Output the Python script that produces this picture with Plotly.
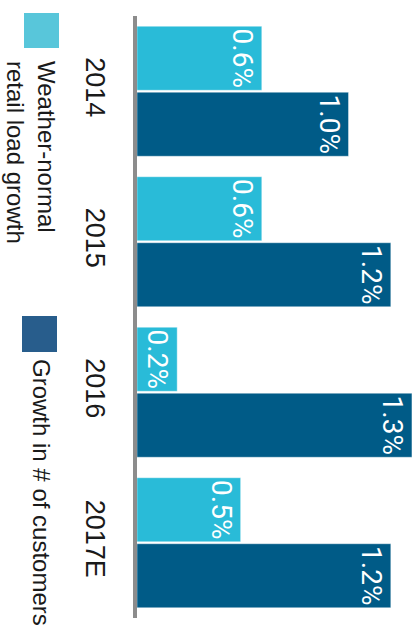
import plotly.graph_objects as go

categories = ["2014", "2015", "2016", "2017E"]
load_growth = [0.59, 0.59, 0.19, 0.49]
load_labels = ["0.6%", "0.6%", "0.2%", "0.5%"]
customer_growth = [1.0, 1.2, 1.3, 1.2]
customer_labels = ["1.0%", "1.2%", "1.3%", "1.2%"]
series_names = ["Weather-normal<br>retail load growth", "Growth in # of customers"]

W, H = 420, 625
ML, MR, MT, MB = 137, 0, 16, 7
PW, PH = W - ML - MR, H - MT - MB

def px_x(x):
    return (x - ML) / PW

def px_y(y):
    return (H - MB - y) / PH

LIGHT = "rgb(41,187,216)"
DARK = "rgb(0,91,135)"

fig = go.Figure()
fig.add_trace(go.Bar(
    y=categories, x=load_growth, orientation="h", name=series_names[0],
    marker=dict(color=LIGHT, line=dict(color="rgba(255,255,255,0.5)", width=0.8)),
    text=load_labels, textposition="inside", insidetextanchor="end",
    textangle=90, constraintext="none",
    textfont=dict(family="Roboto", size=28, color="white"),
))
fig.add_trace(go.Bar(
    y=categories, x=customer_growth, orientation="h", name=series_names[1],
    marker=dict(color=DARK, line=dict(color="rgba(255,255,255,0.5)", width=0.8)),
    text=customer_labels, textposition="inside", insidetextanchor="end",
    textangle=90, constraintext="none",
    textfont=dict(family="Roboto", size=28, color="white"),
))

fig.update_layout(
    width=W, height=H,
    margin=dict(l=ML, r=MR, t=MT, b=MB, pad=0),
    paper_bgcolor="white", plot_bgcolor="white",
    barmode="group", bargap=0.123, bargroupgap=0.03,
    showlegend=False,
    xaxis=dict(range=[0, PW / 211.5], visible=False, fixedrange=True),
    yaxis=dict(
        autorange="reversed", showline=True, linewidth=4, linecolor="#8c8c8c",
        showgrid=False, zeroline=False,
        ticks="outside", ticklen=15, tickcolor="rgba(0,0,0,0)",
        tickangle=90,
        tickfont=dict(family="Liberation Sans, Arial, sans-serif", size=27, color="#1a1a1a"),
    ),
)

# Legend (rotated like the rest of the chart)
fig.add_shape(type="rect", xref="paper", yref="paper",
              x0=px_x(24), x1=px_x(59), y0=px_y(48), y1=px_y(13),
              fillcolor="rgb(88,198,218)", line=dict(width=0))
fig.add_shape(type="rect", xref="paper", yref="paper",
              x0=px_x(22), x1=px_x(57), y0=px_y(352), y1=px_y(316),
              fillcolor="rgb(40,93,140)", line=dict(width=0))
legend_font = dict(family="Liberation Sans, Arial, sans-serif", size=24, color="#1a1a1a")
fig.add_annotation(text=series_names[0], xref="paper", yref="paper",
                   x=px_x(31), y=px_y(152), xanchor="center", yanchor="middle",
                   textangle=90, align="left", showarrow=False, font=legend_font)
fig.add_annotation(text=series_names[1], xref="paper", yref="paper",
                   x=px_x(42), y=px_y(492), xanchor="center", yanchor="middle",
                   textangle=90, align="left", showarrow=False, font=legend_font)

fig.write_html("out.html")
